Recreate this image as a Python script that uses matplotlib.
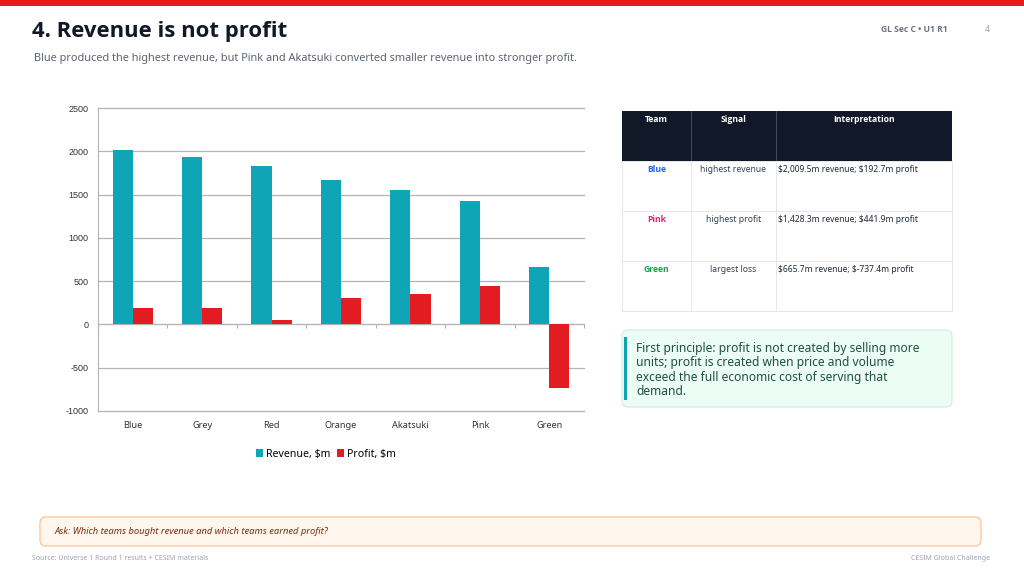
import matplotlib
matplotlib.use("Agg")
import matplotlib.pyplot as plt
import numpy as np
from matplotlib.patches import Rectangle, FancyBboxPatch

plt.rcParams['font.family'] = ['Noto Sans', 'DejaVu Sans']
BOLD = ['Open Sans', 'DejaVu Sans']

# chart data
teams = ['Blue', 'Grey', 'Red', 'Orange', 'Akatsuki', 'Pink', 'Green']
revenue = [2009.5, 1930, 1830, 1668, 1550, 1428.3, 665.7]
profit = [192.7, 192, 46, 300, 346, 441.9, -737.4]
yticks = [-1000, -500, 0, 500, 1000, 1500, 2000, 2500]

# table data
table_cols = ['Team', 'Signal', 'Interpretation']
table_teams = ['Blue', 'Pink', 'Green']
table_team_colors = ['#2563eb', '#db2777', '#16a34a']
table_signals = ['highest revenue', 'highest profit', 'largest loss']
table_notes = [r'\$2,009.5m revenue; \$192.7m profit',
               r'\$1,428.3m revenue; \$441.9m profit',
               r'\$665.7m revenue; \$-737.4m profit']

title = '4. Revenue is not profit'
subtitle = ('Blue produced the highest revenue, but Pink and Akatsuki converted '
            'smaller revenue into stronger profit.')
principle = ('First principle: profit is not created by selling more\n'
             'units; profit is created when price and volume\n'
             'exceed the full economic cost of serving that\n'
             'demand.')
ask = 'Ask: Which teams bought revenue and which teams earned profit?'

W, H = 1024, 576
fig = plt.figure(figsize=(W / 100, H / 100), dpi=100)
fig.patch.set_facecolor('white')

# background layer in pixel coordinates
bg = fig.add_axes([0, 0, 1, 1])
bg.set_xlim(0, W)
bg.set_ylim(H, 0)
bg.axis('off')

bg.add_patch(Rectangle((0, 0), W, 6, color='#e31b23', lw=0))
bg.text(32, 32, title, fontsize=15.9, fontweight='bold', family=BOLD,
        color='#111827', va='center')
bg.text(34, 59, subtitle, fontsize=7.9, color='#5b6472', va='center')
bg.text(948, 29, 'GL Sec C \u2022 U1 R1', fontsize=6.1, fontweight='bold', family=BOLD,
        color='#6b7280', ha='right', va='center')
bg.text(990, 29, '4', fontsize=6.5, color='#9ca3af', ha='right', va='center')

# table
col_x = [622, 691, 776, 952]
head_top, head_h, row_h = 111, 50, 50
bg.add_patch(Rectangle((col_x[0], head_top), col_x[-1] - col_x[0], head_h,
                       color='#111827', lw=0))
for cx in col_x[1:-1]:
    bg.plot([cx, cx], [head_top, head_top + head_h], color='#4b5563', lw=0.6)
for i, name in enumerate(table_cols):
    bg.text((col_x[i] + col_x[i + 1]) / 2, head_top + 8, name, fontsize=6.2,
            fontweight='bold', family=BOLD, color='white', ha='center', va='center')
for r in range(len(table_teams)):
    top = head_top + head_h + r * row_h
    bg.add_patch(Rectangle((col_x[0], top), col_x[-1] - col_x[0], row_h,
                           facecolor='white', edgecolor='#e5e7eb', lw=0.7))
    for cx in col_x[1:-1]:
        bg.plot([cx, cx], [top, top + row_h], color='#e5e7eb', lw=0.7)
    bg.text((col_x[0] + col_x[1]) / 2, top + 8, table_teams[r], fontsize=6.2,
            fontweight='bold', family=BOLD, color=table_team_colors[r],
            ha='center', va='center')
    bg.text((col_x[1] + col_x[2]) / 2, top + 8, table_signals[r], fontsize=6.2,
            color='#374151', ha='center', va='center')
    bg.text(col_x[2] + 2, top + 8, table_notes[r], fontsize=6.1,
            color='#1f2937', ha='left', va='center')

# principle box
bg.add_patch(FancyBboxPatch((622, 330), 330, 77,
                            boxstyle='round,pad=0,rounding_size=6',
                            facecolor='#ecfdf5', edgecolor='#cfeee0', lw=0.8))
bg.add_patch(Rectangle((624, 337), 3, 63, color='#0fa3b1', lw=0))
bg.text(636, 370, principle, fontsize=8.65, color='#1f5140', va='center',
        linespacing=1.12)

# ask box
bg.add_patch(FancyBboxPatch((40, 517), 941, 29,
                            boxstyle='round,pad=0,rounding_size=6',
                            facecolor='#fff7ed', edgecolor='#f9c48f', lw=0.9))
bg.text(55, 531.5, ask, fontsize=6.75, style='italic', color='#7c2d12', va='center')

# footer
bg.text(32, 559, 'Source: Universe 1 Round 1 results + CESIM materials',
        fontsize=5.05, color='#9ca3af', va='center')
bg.text(990, 559, 'CESIM Global Challenge', fontsize=5.05, color='#9ca3af',
        ha='right', va='center')

# bar chart
ax = fig.add_axes([98 / W, (H - 411) / H, 486 / W, 303 / H])
ax.patch.set_alpha(0)
x = np.arange(len(teams))
bw = 0.29
ax.bar(x - bw / 2, revenue, bw, color='#10a5b6', label='Revenue, $m', zorder=3)
ax.bar(x + bw / 2, profit, bw, color='#e31b23', label='Profit, $m', zorder=3)
ax.set_xlim(-0.5, len(teams) - 0.5)
ax.set_ylim(yticks[0], yticks[-1])
ax.set_yticks(yticks)
ax.set_yticklabels([str(v) for v in yticks], fontsize=6.5,
                   family=['Liberation Sans', 'DejaVu Sans'])
ax.tick_params(axis='y', length=0, pad=7, colors='#333333')
ax.grid(axis='y', color='#b3b3b3', lw=0.9, zorder=0)
for gl in ax.get_ygridlines():
    gl.set_clip_on(False)
for s in ['top', 'right']:
    ax.spines[s].set_visible(False)
ax.spines['left'].set_color('#b3b3b3')
ax.spines['bottom'].set_position(('data', 0))
ax.spines['bottom'].set_color('#b3b3b3')
ax.set_xticks(np.arange(len(teams) + 1) - 0.5)
ax.set_xticklabels([])
ax.tick_params(axis='x', length=3, color='#b3b3b3', direction='out')
for i, t in enumerate(teams):
    ax.text(i, -0.048, t, transform=ax.get_xaxis_transform(), fontsize=6.6,
            color='#333333', ha='center', va='center')

fig.legend(loc='center', bbox_to_anchor=(326 / W, 1 - 454 / H), ncol=2,
           frameon=False, fontsize=7.6, handlelength=0.7, handleheight=0.7,
           handletextpad=0.3, columnspacing=0.6)

fig.savefig('out.png', dpi=100)
